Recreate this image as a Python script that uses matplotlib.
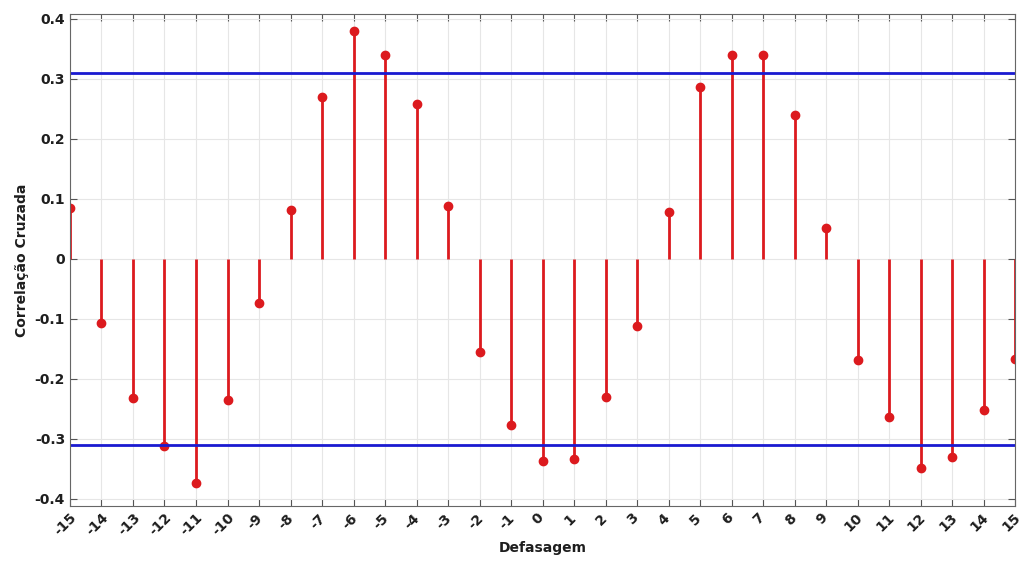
import numpy as np
import matplotlib
matplotlib.use("Agg")
import matplotlib.pyplot as plt
import matplotlib.transforms as mtransforms

# defasagens e correlacao cruzada
lags = np.arange(-15, 16)
xcorr = [0.085, -0.107, -0.232, -0.312, -0.373, -0.235, -0.073, 0.082, 0.270, 0.380,
         0.340, 0.258, 0.088, -0.155, -0.277, -0.337, -0.333, -0.230, -0.112, 0.078,
         0.287, 0.340, 0.340, 0.240, 0.052, -0.168, -0.263, -0.348, -0.330, -0.252,
         -0.167]
limite = 0.31

plt.rcParams["font.family"] = "DejaVu Sans"
plt.rcParams["font.weight"] = "bold"

fig = plt.figure(figsize=(10.23, 5.66), dpi=100)
ax = fig.add_axes([0.0684, 0.106, 0.924, 0.869])

ax.grid(True, color="#e6e6e6", linewidth=0.8)
ax.set_axisbelow(True)

markerline, stemlines, baseline = ax.stem(lags, xcorr, basefmt=" ")
plt.setp(stemlines, color="#dc1a1e", linewidth=2)
plt.setp(markerline, color="#dc1a1e", markersize=6)

ax.axhline(limite, color="#1a1ad0", linewidth=2)
ax.axhline(-limite, color="#1a1ad0", linewidth=2)

ax.set_xlim(-15, 15)
ax.set_ylim(-0.412, 0.408)
ax.set_xticks(lags)
ax.set_xticklabels([str(v) for v in lags], rotation=45, fontsize=10, fontweight="bold")
ax.set_yticks([-0.4, -0.3, -0.2, -0.1, 0, 0.1, 0.2, 0.3, 0.4])
ax.set_yticklabels(["-0.4", "-0.3", "-0.2", "-0.1", "0", "0.1", "0.2", "0.3", "0.4"],
                   fontsize=10, fontweight="bold")
ax.tick_params(direction="in", top=True, right=True, length=5, color="#555555",
               labelcolor="#1e1e1e")
for s in ax.spines.values():
    s.set_color("#666666")

# shift rotated labels a little to the left so the last one fits
offset = mtransforms.ScaledTranslation(-3 / 72, 0, fig.dpi_scale_trans)
for lab in ax.get_xticklabels():
    lab.set_transform(lab.get_transform() + offset)

ax.set_xlabel("Defasagem", fontsize=10, fontweight="bold", color="#1e1e1e", labelpad=2)
ax.set_ylabel("Correlação Cruzada", fontsize=10, fontweight="bold", color="#1e1e1e")

fig.savefig("out.png", dpi=100)
